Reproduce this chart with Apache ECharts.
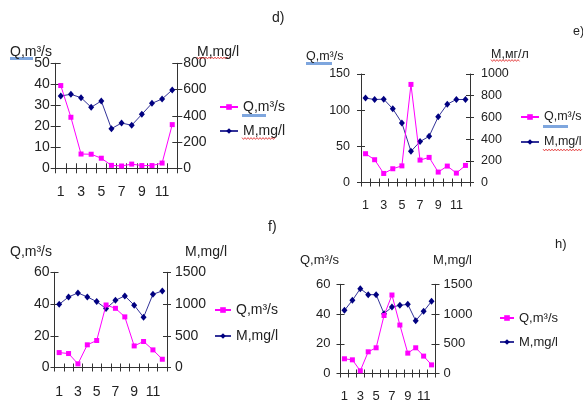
<!DOCTYPE html>
<html><head><meta charset="utf-8">
<script src="https://cdn.jsdelivr.net/npm/echarts@6/dist/echarts.min.js"></script>
<style>html,body{margin:0;padding:0;background:#fff}#c{width:583px;height:405px}</style>
</head><body><div id="c"></div>
<script>
// ---- data ----
const months = ['1','2','3','4','5','6','7','8','9','10','11','12'];
const dQ = [39.4, 24.3, 6.8, 6.7, 4.8, 1.4, 1.1, 2.0, 1.3, 1.3, 2.5, 20.8];
const dM = [551, 564, 538, 465, 513, 302, 345, 328, 411, 495, 528, 597];
const eQ = [39.8, 31.5, 12.5, 19, 23, 135.6, 31, 34.7, 14.4, 22.7, 13, 23.6];
const eM = [778, 765, 768, 679, 549, 287, 377, 426, 605, 722, 765, 765];
const fQ = [9.4, 8.8, 2.3, 14.3, 17, 39.4, 37.3, 31.9, 13.6, 16.4, 11.1, 5.2];
const fM = [996, 1112, 1175, 1112, 1038, 928, 1059, 1128, 981, 792, 1154, 1206];
const hQ = [9.9, 9.2, 1.8, 14.6, 17.3, 39, 52.8, 32.6, 13.7, 17.3, 11.7, 5.8];
const hM = [1062, 1230, 1427, 1326, 1326, 1006, 1118, 1146, 1163, 888, 1045, 1213];
const qName = 'Q,m³/s';
const mName = 'M,mg/l';
const panelLabels = ['d)', 'e)', 'f)', 'h)'];
const qTitles = ['Q,m³/s', 'Q,m³/s', 'Q,m³/s', 'Q,m³/s'];
const mTitles = ['M,mg/l', 'M,мг/л', 'M,mg/l', 'M,mg/l'];
const qAxisMax = [50, 150, 60, 60];
const qAxisStep = [10, 50, 20, 20];
const mAxisMax = [800, 1000, 1500, 1500];
const mAxisStep = [200, 200, 500, 500];
const qSeries = [dQ, eQ, fQ, hQ];
const mSeries = [dM, eM, fM, hM];

// ---- layout ----
const FF = '"Liberation Sans", Arial, sans-serif';
const TXT = '#222';
const AX = '#333';
const layout = [
  {left:55.7, top:63.3, width:121.6, height:105, fs:14, xm:17, ylm:6, yrm:6, tl:5,
   lab:[272,18.5], qt:[10,52], mt:[197,52], lg:{left:219, top:99, iw:18, gap:8}},
  {left:361, top:74, width:109, height:108.5, fs:12.5, xm:17, ylm:11, yrm:11, tl:4,
   lab:[573,32], qt:[306,57], mt:[491,55], lg:{left:520, top:109, iw:18, gap:9}},
  {left:54.5, top:272.3, width:112.5, height:95.2, fs:14, xm:18, ylm:5, yrm:8, tl:4,
   lab:[268,227], qt:[10,252], mt:[185,252], lg:{left:214, top:302, iw:16, gap:10}},
  {left:340.5, top:284.3, width:95, height:89.2, fs:13, xm:16, ylm:10, yrm:8, tl:4,
   lab:[555,244], qt:[300,260], mt:[433,260], lg:{left:499, top:310, iw:14, gap:8}}
];

const grid = [], xAxis = [], yAxis = [], series = [], legend = [], graphic = [];

layout.forEach((L, i) => {
  grid.push({left:L.left, top:L.top, width:L.width, height:L.height});
  const lbl = {fontSize:L.fs, color:TXT, fontFamily:FF};
  // main x axis (outside ticks + labels)
  xAxis.push({type:'category', gridIndex:i, data:months, boundaryGap:true,
    axisLine:{show:true, lineStyle:{color:AX, width:1}},
    axisTick:{show:true, interval:0, length:L.tl, lineStyle:{color:AX, width:1}},
    axisLabel:Object.assign({interval:1, margin:L.xm}, lbl)});
  // overlay x axis (inside ticks) so ticks cross the axis line
  xAxis.push({type:'category', gridIndex:i, data:months, boundaryGap:true, position:'bottom',
    axisLine:{show:false},
    axisTick:{show:true, inside:true, interval:0, length:L.tl, lineStyle:{color:AX, width:1}},
    axisLabel:{show:false}});
  const yBase = (pos, max, step, margin, inside) => ({
    type:'value', gridIndex:i, position:pos, min:0, max:max, interval:step,
    axisLine:{show:!inside, lineStyle:{color:AX, width:1}},
    axisTick:{show:true, inside:inside, length:L.tl, lineStyle:{color:AX, width:1}},
    splitLine:{show:false},
    axisLabel: inside ? {show:false} : Object.assign({margin:margin, formatter:v => String(v)}, lbl)
  });
  yAxis.push(yBase('left', qAxisMax[i], qAxisStep[i], L.ylm, false));
  yAxis.push(yBase('left', qAxisMax[i], qAxisStep[i], L.ylm, true));
  yAxis.push(yBase('right', mAxisMax[i], mAxisStep[i], L.yrm, false));
  yAxis.push(yBase('right', mAxisMax[i], mAxisStep[i], L.yrm, true));

  series.push({name:qName, type:'line', xAxisIndex:2*i, yAxisIndex:4*i, data:qSeries[i],
    showAllSymbol:true, symbol:'rect', symbolSize:5,
    lineStyle:{color:'#ff00ff', width:1}, itemStyle:{color:'#ff00ff'}, z:3});
  series.push({name:mName, type:'line', xAxisIndex:2*i, yAxisIndex:4*i+2, data:mSeries[i],
    showAllSymbol:true, symbol:'diamond', symbolSize:[6,7],
    lineStyle:{color:'#333399', width:1}, itemStyle:{color:'#000080'}, z:2});

  legend.push({orient:'vertical', left:L.lg.left, top:L.lg.top, padding:0, itemWidth:L.lg.iw, itemHeight:7,
    itemGap:L.lg.gap, selectedMode:false, data:[qName, mName],
    textStyle:{fontSize:L.fs, color:TXT, fontFamily:FF, lineHeight:16}});

  const txt = (s, p) => ({type:'text', x:p[0], y:p[1], z:10,
    style:{text:s, fontSize:L.fs, fontFamily:FF, fill:TXT, verticalAlign:'middle', align:'left'}});
  graphic.push(txt(panelLabels[i], L.lab));
  graphic.push(txt(qTitles[i], L.qt));
  graphic.push(txt(mTitles[i], L.mt));
});

// decorative proofing marks (blue underline / red wavy underline) in panels d and e
function wavy(x0, x1, y) {
  const pts = [];
  let k = 0;
  for (let x = x0; x <= x1; x += 1.5, k++) pts.push([x, y + (k % 2 ? 0.9 : -0.9)]);
  return {type:'polyline', shape:{points:pts}, style:{stroke:'#e02020', lineWidth:0.8, fill:null}, z:9};
}
function blueBar(x0, x1, y) {
  return {type:'rect', shape:{x:x0, y:y, width:x1 - x0, height:3}, style:{fill:'#7ea6de'}, z:9};
}
graphic.push(blueBar(10, 33, 57));
graphic.push(wavy(197, 230, 58));
graphic.push(blueBar(242, 266, 114));
graphic.push(wavy(242, 275, 138.5));
graphic.push(blueBar(306, 332, 62));
graphic.push(wavy(491, 520, 60.5));
graphic.push(blueBar(543, 568, 125));
graphic.push(wavy(543, 583, 150));

const chart = echarts.init(document.getElementById('c'), null, {renderer:'canvas'});
chart.setOption({animation:false, backgroundColor:'#fff', grid, xAxis, yAxis, series, legend, graphic});
</script>
</body></html>
